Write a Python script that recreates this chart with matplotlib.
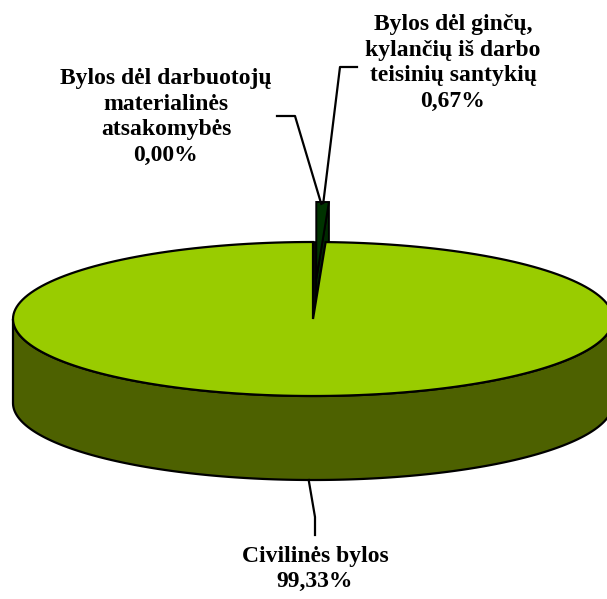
import numpy as np
import matplotlib
matplotlib.use("Agg")
import matplotlib.pyplot as plt
from matplotlib.patches import Polygon

# shares of cases, in drawing order (clockwise from the top of the pie)
labels = [
    "Bylos dėl darbuotojų\nmaterialinės\natsakomybės",
    "Bylos dėl ginčų,\nkylančių iš darbo\nteisinių santykių",
    "Civilinės bylos",
]
shares = [0.00, 0.67, 99.33]
pct_text = ["0,00%", "0,67%", "99,33%"]

top_colors = ["#003300", "#003300", "#99cc00"]
side_colors = ["#002a00", "#002a00", "#4d6100"]
explode = [0.52, 0.52, 0.0]

# pie geometry in pixel units
CX, CY = 313, 319
RX, RY = 300, 77
DEPTH = 84
START = 90.0


def pt(theta, dx=0.0, dy=0.0, r=1.0):
    t = np.radians(theta)
    return CX + dx + r * RX * np.cos(t), CY + dy - r * RY * np.sin(t)


def arc(t0, t1, dx=0.0, dy=0.0, n=200):
    ts = np.linspace(t0, t1, n)
    return [pt(t, dx, dy) for t in ts]


fig = plt.figure(figsize=(6.07, 5.99), dpi=100)
ax = fig.add_axes([0, 0, 1, 1])
ax.set_xlim(0, 607)
ax.set_ylim(599, 0)
ax.axis("off")

total = sum(shares)
edges = [START]
for v in shares:
    edges.append(edges[-1] - 360.0 * v / total)

offsets = []
for i in range(len(shares)):
    t0, t1 = edges[i], edges[i + 1]
    mid = np.radians((t0 + t1) / 2)
    dx = explode[i] * RX * np.cos(mid)
    dy = -explode[i] * RY * np.sin(mid)
    offsets.append((dx, dy))

k = len(shares) - 1
t0, t1 = edges[k], edges[k + 1]

# shadowed cut in the main body where the small slices were pulled out
gap = [(CX, CY)] + arc(edges[0], edges[k]) + [(CX, CY)]
ax.add_patch(Polygon(gap, closed=True, facecolor="#050a00",
                     edgecolor="black", lw=1.2, zorder=0.5))

# exploded small slices sit behind the main body
for i in range(len(shares) - 1):
    s0, s1 = edges[i], edges[i + 1]
    if s0 == s1:
        continue
    dx, dy = offsets[i]
    apex = (CX + dx, CY + dy)
    top = [apex] + arc(s0, s1, dx, dy) + [apex]
    tip = pt(s1, dx, dy)
    wall = [apex, tip, (tip[0], tip[1] + DEPTH), (apex[0], apex[1] + DEPTH)]
    ax.add_patch(Polygon(wall, closed=True, facecolor=side_colors[i],
                         edgecolor="black", lw=1.4, zorder=1))
    ax.add_patch(Polygon(top, closed=True, facecolor=top_colors[i],
                         edgecolor="black", lw=1.4, zorder=2))

# main slice: front rim then top face
rim = arc(180, 360) + arc(360, 180, 0, DEPTH)
ax.add_patch(Polygon(rim, closed=True, facecolor=side_colors[k],
                     edgecolor="black", lw=1.6, zorder=3))
face = [(CX, CY)] + arc(t0, t1) + [(CX, CY)]
ax.add_patch(Polygon(face, closed=True, facecolor=top_colors[k],
                     edgecolor="black", lw=1.6, zorder=4))

font = dict(family=["Liberation Serif", "DejaVu Serif"], fontweight="bold",
            fontsize=17, ha="center", va="center", linespacing=1.28)

# labels with leader lines
lx0, ly0 = pt(edges[0], *offsets[1])
ax.text(166, 117, labels[0] + "\n" + pct_text[0], **font, zorder=6)
ax.plot([277, 295, lx0 + 5], [116, 116, ly0 + 2],
        color="black", lw=1.6, zorder=5)

mx1 = (edges[1] + edges[2]) / 2
rx1, ry1 = pt(mx1 - 0.7, *offsets[1])
ax.text(453, 63, labels[1] + "\n" + pct_text[1], **font, zorder=6)
ax.plot([357, 340, rx1 - 3], [67, 67, ry1 + 1], color="black", lw=1.6,
        zorder=5)

bx, by = pt((t0 + t1) / 2)
ax.text(315, 569, labels[2] + "\n" + pct_text[2], **font, zorder=6)
ax.plot([bx + 2, 315, 315], [by + DEPTH, 517, 535], color="black", lw=1.6,
        zorder=5)

fig.savefig("out.png", dpi=100, facecolor="white")
